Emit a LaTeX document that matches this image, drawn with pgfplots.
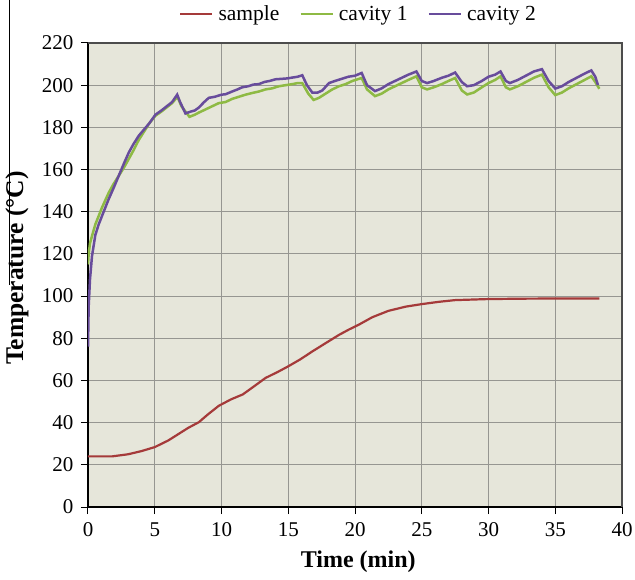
\documentclass[border=0pt]{standalone}
\usepackage{fontspec}
\setmainfont{Liberation Serif}
\usepackage{pgfplots}
\pgfplotsset{compat=1.18}
\definecolor{bgc}{RGB}{230,230,218}
\definecolor{redc}{RGB}{165,58,58}
\definecolor{greenc}{RGB}{142,186,68}
\definecolor{purplec}{RGB}{104,76,156}
\definecolor{gridc}{RGB}{150,150,145}
\begin{document}
\begin{tikzpicture}
\begin{axis}[
  name=ax, at={(0,0)}, anchor=south west,
  scale only axis, width=534pt, height=464pt,
  xmin=0, xmax=40, ymin=0, ymax=220,
  xtick={0,5,...,40}, ytick={0,20,...,220},
  axis background/.style={fill=bgc},
  grid=major, major grid style={gridc, line width=0.9pt},
  axis x line*=bottom, axis y line*=left,
  axis line style={black, line width=1.2pt, -},
  tick align=outside, major tick length=7pt,
  tick style={black, line width=1pt},
  tick label style={font=\fontsize{21}{21}\selectfont},
  xticklabel style={yshift=-5pt},
  yticklabel style={xshift=-4pt},
  /pgf/number format/assume math mode=true,
  xlabel={\textbf{Time (min)}},
  ylabel={\textbf{Temperature (°C)}},
  xlabel style={font=\fontsize{24}{24}\selectfont, at={(axis description cs:0.506,-0.1185)}, anchor=center},
  ylabel style={font=\fontsize{25.5}{25.5}\selectfont, at={(axis description cs:-0.133,0.515)}, anchor=center},
  legend style={draw=none, fill=none, at={(axis description cs:0.5066,1)}, anchor=center, yshift=29pt,
    legend columns=-1, font=\fontsize{21.5}{21.5}\selectfont,
    /tikz/every odd column/.append style={column sep=3pt},
    /tikz/every even column/.append style={column sep=18pt}},
  legend image code/.code={\draw[#1] (0pt,0pt) -- (32pt,0pt);},
]
\addplot[redc, line width=2.2pt] coordinates {
(0,24) (1,24) (1.8,24) (3,25) (4,26.5) (5,28.4) (6,31.5) (6.8,34.7) (7.5,37.5) (8.3,40.2)
(9,44) (9.8,48) (10.7,51) (11.6,53.4) (12.5,57.5) (13.3,61.2) (14.2,64) (15,66.7) (15.9,70)
(16.8,73.75) (17.8,77.7) (18.8,81.6) (19.5,84) (20.3,86.5) (21.3,90) (22.5,93) (23.8,95)
(25,96.2) (26.3,97.3) (27.5,98.1) (30,98.6) (33,98.8) (38.3,98.9)
};
\addlegendentry{sample}
\addplot[greenc, line width=2.5pt] coordinates {
(0,115) (0.05,120) (0.15,125) (0.3,128.5) (0.55,134) (0.8,138) (1.05,142) (1.3,145.5) (1.55,149)
(1.9,153) (2.3,157) (2.7,161) (3.05,165) (3.4,169) (3.8,174) (4.2,178) (4.6,182) (5.05,185.5)
(5.5,187.5) (5.9,189.5) (6.3,191.5) (6.7,194.5) (7.0,190) (7.6,185) (8.0,186) (8.3,187) (8.8,188.5)
(9.3,190) (9.8,191.5) (10.3,192) (10.8,193.5) (11.3,194.5) (11.8,195.5) (12.3,196.3) (12.8,197)
(13.3,198) (13.8,198.5) (14.3,199.5) (14.8,200) (15.3,200.5) (15.7,201) (16.05,201) (16.5,196)
(16.9,193) (17.3,194) (17.8,196) (18.3,198) (18.8,199.5) (19.3,200.5) (19.8,202) (20.5,203.4)
(20.9,198) (21.5,194.8) (22.0,196) (22.5,198) (23.0,199.5) (23.5,201) (24.0,202.5) (24.6,204.2)
(25.0,199) (25.4,198) (25.9,199) (26.5,200.5) (27.0,202) (27.5,203.4) (28.0,197.5) (28.4,195.6)
(28.9,196.5) (29.5,199) (30.0,201) (30.5,202.5) (30.9,204.2) (31.3,199) (31.6,198) (32.2,199.5)
(32.8,201.5) (33.4,203.5) (34.0,205) (34.5,199) (35.0,195.3) (35.5,196.5) (36.0,198.5) (36.6,200.5)
(37.2,202.5) (37.7,204.2) (38.0,201.5) (38.3,198.3)
};
\addlegendentry{cavity 1}
\addplot[purplec, line width=2.5pt] coordinates {
(0,76) (0.05,95) (0.15,108) (0.3,119) (0.55,129) (0.8,134) (1.05,138) (1.3,142) (1.55,146)
(1.9,151) (2.3,157) (2.7,163) (3.05,168) (3.4,172) (3.8,176) (4.2,179) (4.6,182) (5.05,186)
(5.5,188) (5.9,190) (6.3,192) (6.68,195.5) (6.9,192) (7.3,186.6) (7.7,187.5) (8.0,188) (8.3,189.4)
(8.7,192) (9.05,194) (9.5,194.5) (10.0,195.5) (10.3,195.7) (10.8,197) (11.2,198) (11.55,199)
(12.0,199.5) (12.4,200.3) (12.8,200.5) (13.2,201.5) (13.6,202) (14.05,202.8) (14.5,203) (14.9,203.2)
(15.3,203.6) (15.7,204) (16.05,204.7) (16.4,200) (16.8,196.5) (17.2,196.5) (17.55,197.5) (18.05,201)
(18.5,202) (19.0,203) (19.5,204) (20.0,204.5) (20.5,205.8) (20.9,200) (21.5,197.2) (22.0,198.5)
(22.5,200.5) (23.0,202) (23.5,203.5) (24.0,205) (24.6,206.5) (25.0,202) (25.4,201) (25.9,202)
(26.5,203.5) (27.0,204.5) (27.5,206) (28.0,201.5) (28.4,199.5) (28.9,200) (29.5,202) (30.0,204)
(30.5,205) (30.9,206.5) (31.3,202) (31.6,201) (32.2,202.5) (32.8,204.5) (33.4,206.5) (34.0,207.6)
(34.5,202) (35.0,198.4) (35.5,199.5) (36.0,201.5) (36.6,203.5) (37.2,205.5) (37.7,207) (38.0,204)
(38.2,200)
};
\addlegendentry{cavity 2}
\end{axis}
\draw[gray!60!black, line width=1.2pt] (ax.north west) -- (ax.north east) -- (ax.south east);
\draw[black, line width=0.8pt] ([xshift=-79pt,yshift=222pt]ax.south west) -- ++(0,285pt);
\pgfresetboundingbox
\path ([xshift=-88pt,yshift=-72pt]ax.south west) rectangle ([xshift=13pt,yshift=43pt]ax.north east);
\end{tikzpicture}
\end{document}
